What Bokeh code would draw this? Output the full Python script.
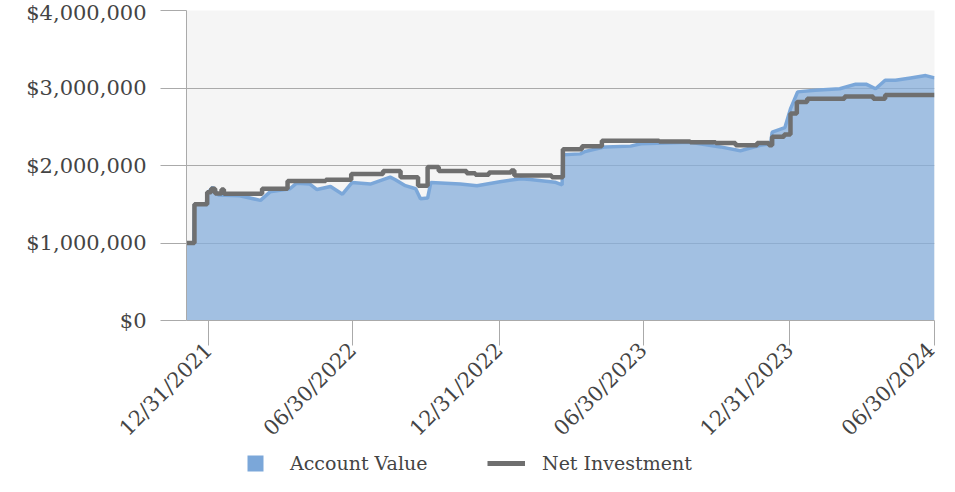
import pandas as pd
from math import pi
from bokeh.plotting import figure
from bokeh.layouts import column
from bokeh.models import (FixedTicker, DatetimeTickFormatter, NumeralTickFormatter,
                          Legend, LegendItem, Range1d)
from bokeh.embed import file_html
from bokeh.resources import INLINE

# ---- data (values in dollars) ----
account_dates = [
    "2021-12-03", "2021-12-12", "2021-12-13", "2021-12-28", "2021-12-29", "2022-01-05",
    "2022-01-12", "2022-02-08", "2022-03-06", "2022-03-18", "2022-04-12", "2022-04-20",
    "2022-05-07", "2022-05-16", "2022-06-02", "2022-06-17", "2022-06-29", "2022-07-22",
    "2022-08-16", "2022-08-22", "2022-09-04", "2022-09-17", "2022-09-23", "2022-10-02",
    "2022-10-06", "2022-11-12", "2022-12-03", "2023-01-01", "2023-01-27", "2023-02-08",
    "2023-03-11", "2023-03-20", "2023-03-21", "2023-04-12", "2023-04-18", "2023-05-13",
    "2023-06-14", "2023-06-27", "2023-08-28", "2023-10-05", "2023-10-30", "2023-11-24",
    "2023-12-07", "2023-12-09", "2023-12-25", "2024-01-01", "2024-01-10", "2024-02-01",
    "2024-03-03", "2024-03-23", "2024-04-05", "2024-04-17", "2024-04-29", "2024-05-12",
    "2024-05-31", "2024-06-19", "2024-06-30",
]
account_values = [
    1000000, 1000000, 1500000, 1500000, 1640000, 1720000,
    1620000, 1610000, 1550000, 1660000, 1700000, 1770000,
    1760000, 1690000, 1730000, 1630000, 1780000, 1760000,
    1850000, 1820000, 1740000, 1700000, 1570000, 1580000,
    1780000, 1760000, 1740000, 1790000, 1830000, 1820000,
    1785000, 1750000, 2140000, 2150000, 2180000, 2240000,
    2250000, 2280000, 2300000, 2240000, 2190000, 2260000,
    2280000, 2430000, 2490000, 2730000, 2950000, 2970000,
    2990000, 3050000, 3050000, 2990000, 3100000, 3100000,
    3130000, 3160000, 3130000,
]

invest_dates = [
    "2021-12-03", "2021-12-13", "2021-12-29", "2022-01-03", "2022-01-08", "2022-01-16",
    "2022-01-19", "2022-03-08", "2022-04-09", "2022-05-27", "2022-06-28", "2022-08-07",
    "2022-08-29", "2022-09-20", "2022-10-02", "2022-10-16", "2022-11-20", "2022-12-01",
    "2022-12-18", "2023-01-15", "2023-01-19", "2023-03-07", "2023-03-21", "2023-04-14",
    "2023-05-09", "2023-07-20", "2023-08-28", "2023-09-29", "2023-10-24", "2023-11-20",
    "2023-12-05", "2023-12-09", "2023-12-24", "2024-01-01", "2024-01-09", "2024-01-22",
    "2024-03-09", "2024-04-14", "2024-04-29", "2024-06-30",
]
invest_values = [
    1000000, 1500000, 1655000, 1700000, 1640000, 1690000,
    1635000, 1700000, 1800000, 1815000, 1890000, 1930000,
    1850000, 1740000, 1980000, 1930000, 1900000, 1880000,
    1910000, 1935000, 1870000, 1850000, 2210000, 2250000,
    2320000, 2310000, 2300000, 2290000, 2260000, 2290000,
    2260000, 2370000, 2400000, 2670000, 2820000, 2860000,
    2890000, 2860000, 2910000, 2910000,
]

tick_dates = ["2021-12-31", "2022-06-30", "2022-12-31", "2023-06-30", "2023-12-31", "2024-06-30"]
y_ticks = [0, 1000000, 2000000, 3000000, 4000000]

acc_x = pd.to_datetime(account_dates)
inv_x = pd.to_datetime(invest_dates)
tick_ms = [pd.Timestamp(d).timestamp() * 1000 for d in tick_dates]

FONT = "DejaVu Serif"
TXT = "#444444"
AREA_FILL = "#85addb"
AREA_LINE = "#7ba7d9"
NET_COLOR = "#6f6f6f"

p = figure(width=939, height=452, x_axis_type="datetime",
           output_backend="svg", toolbar_location=None,
           x_range=Range1d(pd.Timestamp(account_dates[0]), pd.Timestamp(tick_dates[-1])),
           y_range=Range1d(0, 4000000),
           min_border_left=186, min_border_right=5, min_border_top=10, min_border_bottom=132)
p.outline_line_color = None
p.background_fill_color = "#f5f5f5"
p.border_fill_color = "white"

p.varea(x=acc_x, y1=0, y2=account_values, fill_color=AREA_FILL, fill_alpha=0.75)
p.line(acc_x, account_values, line_color=AREA_LINE, line_width=3.5)
p.step(inv_x, invest_values, mode="after", line_color=NET_COLOR, line_width=4.5)

# axes
p.xaxis.ticker = FixedTicker(ticks=tick_ms)
fmt = "%m/%d/%Y"
p.xaxis.formatter = DatetimeTickFormatter(days=fmt, months=fmt, years=fmt, hours=fmt,
                                          hourmin=fmt, minutes=fmt, minsec=fmt, seconds=fmt,
                                          milliseconds=fmt, microseconds=fmt)
p.xaxis.major_label_orientation = pi / 4
p.yaxis.ticker = FixedTicker(ticks=y_ticks)
p.yaxis.formatter = NumeralTickFormatter(format="$0,0")

for ax in (p.xaxis, p.yaxis):
    ax.axis_line_color = "#aaaaaa"
    ax.major_tick_line_color = "#aaaaaa"
    ax.major_tick_in = 0
    ax.minor_tick_line_color = None
    ax.major_label_text_font = FONT
    ax.major_label_text_font_size = "21px"
    ax.major_label_text_color = TXT
p.yaxis.major_tick_out = 26
p.yaxis.major_label_standoff = 14
p.xaxis.major_tick_out = 25
p.xaxis.major_label_standoff = 1

p.xgrid.visible = False
p.ygrid.grid_line_color = "#aaaaaa"
p.ygrid.ticker = FixedTicker(ticks=y_ticks)

# legend strip (separate small figure so each key can be sized like the original);
# its key renderers hold the real series but lie outside this strip's ranges
lg = figure(width=939, height=24, output_backend="svg", toolbar_location=None,
            x_axis_location=None, y_axis_location=None,
            x_range=Range1d(0, 1), y_range=Range1d(0, 1),
            min_border=0, min_border_left=0, min_border_right=0,
            min_border_top=0, min_border_bottom=0)
lg.outline_line_color = None
lg.grid.visible = False
key_area = lg.varea(x=acc_x, y1=0, y2=account_values, fill_color=AREA_LINE, fill_alpha=1.0)
key_line = lg.step(x=inv_x, y=invest_values, mode="after", line_color=NET_COLOR, line_width=5)

common = dict(orientation="horizontal", padding=0, margin=0, glyph_height=20, label_height=20,
              border_line_color=None, background_fill_alpha=0,
              label_text_font=FONT, label_text_font_size="19px", label_text_color=TXT)
leg1 = Legend(items=[LegendItem(label="Account Value", renderers=[key_area])],
              location=(59, 2), glyph_width=20, label_standoff=25, **common)
leg2 = Legend(items=[LegendItem(label="Net Investment", renderers=[key_line])],
              location=(301, 2), glyph_width=38, label_standoff=17, **common)
lg.add_layout(leg1)
lg.add_layout(leg2)

open("out.html", "w").write(file_html(column(p, lg, spacing=0), INLINE))
